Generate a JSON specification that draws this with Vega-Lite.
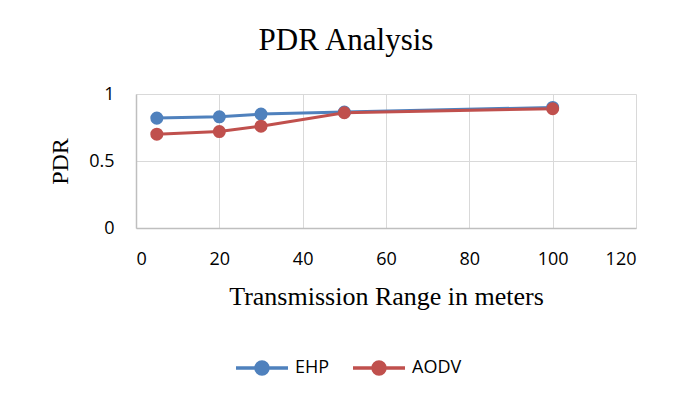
{
  "$schema": "https://vega.github.io/schema/vega-lite/v6.json",
  "width": 500,
  "height": 134,
  "autosize": {"type": "none"},
  "padding": {"left": 136, "top": 94, "right": 55, "bottom": 174},
  "background": "white",
  "title": {
    "text": "PDR Analysis",
    "font": "Liberation Serif",
    "fontSize": 31,
    "fontWeight": "normal",
    "color": "#000000",
    "anchor": "middle",
    "dx": -40,
    "baseline": "alphabetic",
    "offset": 4
  },
  "data": {
    "values": [
      {"range": 5, "pdr": 0.82, "protocol": "EHP"},
      {"range": 20, "pdr": 0.83, "protocol": "EHP"},
      {"range": 30, "pdr": 0.85, "protocol": "EHP"},
      {"range": 50, "pdr": 0.865, "protocol": "EHP"},
      {"range": 100, "pdr": 0.90, "protocol": "EHP"},
      {"range": 5, "pdr": 0.70, "protocol": "AODV"},
      {"range": 20, "pdr": 0.72, "protocol": "AODV"},
      {"range": 30, "pdr": 0.76, "protocol": "AODV"},
      {"range": 50, "pdr": 0.86, "protocol": "AODV"},
      {"range": 100, "pdr": 0.89, "protocol": "AODV"}
    ]
  },
  "mark": {"type": "line", "strokeWidth": 3, "point": {"size": 170, "filled": true, "opacity": 1}},
  "encoding": {
    "x": {
      "field": "range",
      "type": "quantitative",
      "scale": {"domain": [0, 120], "nice": false, "zero": true},
      "axis": {
        "title": "Transmission Range in meters",
        "values": [0, 20, 40, 60, 80, 100, 120],
        "grid": true,
        "gridColor": "#D9D9D9",
        "ticks": false,
        "domainColor": "#BFBFBF",
        "domainWidth": 1.5,
        "labelFont": "Open Sans",
        "labelFontSize": 18,
        "labelColor": "#000000",
        "labelPadding": 22,
        "titleFont": "Liberation Serif",
        "titleFontSize": 26,
        "titleFontWeight": "normal",
        "titleColor": "#000000",
        "titlePadding": 15
      }
    },
    "y": {
      "field": "pdr",
      "type": "quantitative",
      "scale": {"domain": [0, 1], "nice": false},
      "axis": {
        "title": "PDR",
        "values": [0, 0.5, 1],
        "format": "~g",
        "grid": true,
        "gridColor": "#D9D9D9",
        "ticks": false,
        "domainColor": "#BFBFBF",
        "domainWidth": 1.5,
        "labelFont": "Open Sans",
        "labelFontSize": 18,
        "labelColor": "#000000",
        "labelPadding": 22,
        "titleFont": "Liberation Serif",
        "titleFontSize": 24,
        "titleFontWeight": "normal",
        "titleColor": "#000000",
        "titlePadding": 16
      }
    },
    "color": {
      "field": "protocol",
      "type": "nominal",
      "scale": {"domain": ["EHP", "AODV"], "range": ["#4F81BD", "#C0504D"]},
      "legend": {
        "title": null,
        "orient": "none",
        "direction": "horizontal",
        "legendX": 98,
        "legendY": 246,
        "padding": 0,
        "symbolType": "M-1,0H1M-0.23,0a0.23,0.23 0 1,0 0.46,0a0.23,0.23 0 1,0 -0.46,0",
        "symbolSize": 2704,
        "symbolStrokeWidth": 3.5,
        "labelFont": "Open Sans",
        "labelFontSize": 18,
        "labelColor": "#000000",
        "labelOffset": 5,
        "columnPadding": 16
      }
    }
  },
  "config": {
    "view": {"stroke": null}
  }
}
